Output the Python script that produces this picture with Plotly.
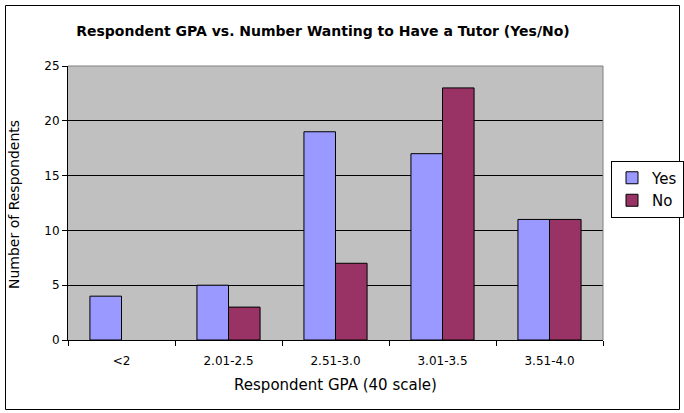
import plotly.graph_objects as go

categories = ["<2", "2.01-2.5", "2.51-3.0", "3.01-3.5", "3.51-4.0"]
yes_values = [4, 5, 19, 17, 11]
no_values = [None, 3, 7, 23, 11]

L, R, T, B = 68, 603, 66, 340
W, H = 684, 413
pw, ph = R - L, B - T

def px(x):
    return (x - L) / pw

def py(y):
    return (B - y) / ph

fig = go.Figure()
fig.add_trace(go.Bar(name="Yes", x=categories, y=yes_values,
                     marker=dict(color="#9999FF", line=dict(color="black", width=1))))
fig.add_trace(go.Bar(name="No", x=categories, y=no_values,
                     marker=dict(color="#993366", line=dict(color="black", width=1))))

font = "DejaVu Sans"
fig.update_layout(
    width=W, height=H,
    margin=dict(l=L, r=W - R, t=T, b=H - B, pad=0, autoexpand=False),
    paper_bgcolor="white",
    plot_bgcolor="#C0C0C0",
    barmode="group",
    bargap=0.41,
    bargroupgap=0,
    font=dict(family=font, color="black"),
    title=dict(text="<b>Respondent GPA vs. Number Wanting to Have a Tutor (Yes/No)</b>",
               x=px(323), xanchor="center", y=1 - 31 / H, yanchor="middle",
               xref="paper", yref="container",
               font=dict(size=14, family=font)),
    legend=dict(x=px(611), y=py(160.5), xanchor="left", yanchor="top",
                bordercolor="black", borderwidth=1, bgcolor="white",
                itemwidth=30, tracegroupgap=0,
                font=dict(size=15, family=font), traceorder="normal"),
    xaxis=dict(
        title=dict(text="Respondent GPA (40 scale)", font=dict(size=15, family=font), standoff=12),
        tickfont=dict(size=12, family=font),
        ticklabelstandoff=10,
        showline=True, linecolor="black", linewidth=1,
        ticks="outside", ticklen=5, tickcolor="black", tickson="boundaries",
        showgrid=False, automargin=False,
    ),
    yaxis=dict(
        range=[0, 25], dtick=5,
        tickfont=dict(size=12, family=font),
        showline=True, linecolor="black", linewidth=1,
        ticks="outside", ticklen=5, tickcolor="black",
        showgrid=True, gridcolor="black", gridwidth=1,
        zeroline=False, automargin=False,
    ),
)

# plot area top/right gray border
fig.add_shape(type="line", xref="paper", yref="paper", x0=0, x1=1, y0=1, y1=1,
              line=dict(color="#808080", width=1))
fig.add_shape(type="line", xref="paper", yref="paper", x0=1, x1=1, y0=0, y1=1,
              line=dict(color="#808080", width=1))
# outer chart border
fig.add_shape(type="rect", xref="paper", yref="paper",
              x0=px(5.5), x1=px(679.5), y0=py(409.5), y1=py(5.5),
              line=dict(color="black", width=1), layer="above")

# y-axis title (partially clipped in the reference)
fig.add_annotation(text="Number of Respondents", xref="paper", yref="paper",
                   x=px(14), y=py(205), xanchor="center", yanchor="middle",
                   textangle=-90, showarrow=False,
                   font=dict(size=14, family=font, color="black"))

fig.write_html("out.html", config={"displayModeBar": False},
               post_script="document.body.style.margin='0';")
